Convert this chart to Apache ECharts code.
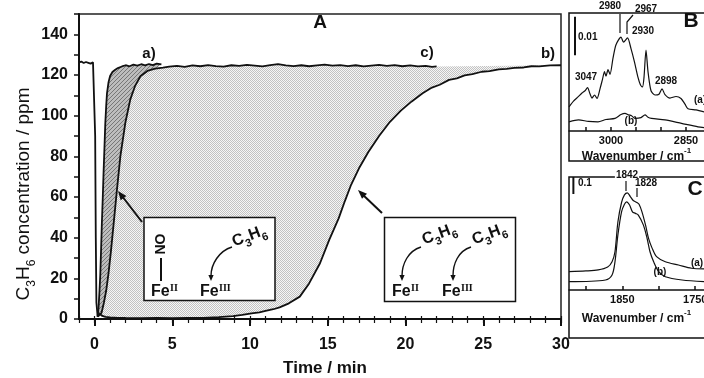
<!DOCTYPE html>
<html>
<head>
<meta charset="utf-8">
<script src="https://cdn.jsdelivr.net/npm/echarts@6/dist/echarts.min.js"></script>
<style>
  html, body { margin: 0; padding: 0; background: #fff; }
  #chart { width: 704px; height: 378px; }
</style>
</head>
<body>
<div id="chart"></div>
<script>
// ---------- Panel A: C3H6 outlet concentration (ppm) vs time (min) ----------
const feedTime = [-1.0, -0.85, -0.7, -0.55, -0.4, -0.25, -0.1, 0.0, 0.04, 0.08, 0.12, 0.2];
const feedConc = [126.2, 126.6, 125.9, 126.4, 126.0, 125.6, 126.3, 125.8, 90, 40, 8, 1.2];

const aTime = [0.2, 0.26, 0.32, 0.37, 0.42, 0.47, 0.53, 0.58, 0.64, 0.69, 0.75, 0.8, 0.9, 1.0, 1.15, 1.33, 1.5, 1.76, 2.0, 2.25, 2.5, 2.75, 3.0, 3.25, 3.5, 3.75, 4.0, 4.3];
const aConc = [1.2, 6, 14, 22, 34, 47, 60, 72, 85, 96, 105, 111, 116.5, 119.5, 121.5, 122.6, 123.4, 124.2, 124.8, 124.3, 125.1, 124.6, 125.3, 124.7, 125.4, 124.9, 125.6, 125.2];

const cTime = [0.2, 0.3, 0.45, 0.6, 0.75, 0.9, 1.05, 1.23, 1.44, 1.66, 1.98, 2.3, 2.6, 2.95, 3.4, 3.9, 4.4, 4.8,
  5.3, 5.8, 6.3, 6.8, 7.3, 7.8, 8.3, 8.8, 9.3, 9.8, 10.3, 10.8, 11.3, 11.8, 12.3, 12.8, 13.3, 13.8, 14.3, 14.8,
  15.3, 15.8, 16.3, 16.8, 17.3, 17.8, 18.3, 18.8, 19.3, 19.8, 20.3, 20.8, 21.3, 21.7, 22.0];
const cConc = [1.2, 1.0, 3, 8, 14, 22.6, 33, 47, 63.5, 80, 96.5, 108, 114.5, 119.4, 122, 123.1, 123.6, 124.1,
  124.5, 124.0, 124.7, 124.3, 124.9, 124.4, 124.1, 124.8, 124.5, 125.0, 124.6, 124.2, 124.9, 125.3, 124.7, 124.4, 124.8, 124.3, 124.7, 125.1,
  124.6, 124.9, 124.4, 124.8, 124.2, 124.6, 125.0, 124.5, 124.9, 124.3, 124.7, 124.2, 124.5, 124.0, 124.2];

const bTime = [0.2, 0.25, 0.32, 0.4, 0.5, 0.7, 1.0, 1.5, 2, 3, 4, 5, 6, 7, 8, 8.9, 9.5, 10.1, 10.6, 11.0, 11.5, 11.9, 12.5, 13.2, 13.8,
  14.5, 15.1, 15.7, 16.1, 16.5, 17.0, 17.6, 18.3, 19.0, 19.7, 20.4, 21.1, 21.7, 22.2, 22.8, 23.3, 23.8, 24.3, 24.9, 25.4, 26.0,
  26.5, 27.0, 27.6, 28.1, 28.6, 29.3, 30.0];
const bConc = [1.2, 1.8, 2.6, 2.2, 1.5, 1.0, 0.8, 0.6, 0.5, 0.4, 0.5, 0.4, 0.5, 0.6, 0.9, 1.4, 2.0, 2.8, 3.3, 4.0, 4.8, 5.7, 7.7, 11, 17.5,
  27.4, 39, 49.5, 58, 66, 74, 82, 90, 97, 102.5, 107, 111, 113.8, 115.2, 117.6, 118.3, 119.8, 120.4, 121.6, 121.9, 122.8,
  123.0, 123.5, 123.7, 124.3, 124.2, 124.7, 124.8];

const timeMajorTicks = [0, 5, 10, 15, 20, 25, 30];
const timeMinorTicks = [-1, 0, 1, 2, 3, 4, 5, 6, 7, 8, 9, 10, 11, 12, 13, 14, 15, 16, 17, 18, 19, 20, 21, 22, 23, 24, 25, 26, 27, 28, 29, 30];

// ---------- Panel B: C-H stretching region ----------
const chWave = [3084, 3075, 3066, 3058, 3052, 3047, 3042, 3038, 3033, 3028, 3022, 3017, 3013, 3010, 3006, 3002, 2996, 2990, 2980, 2975,
  2967, 2960, 2953, 2946, 2941, 2937, 2934, 2930, 2926, 2920, 2912, 2904, 2898, 2892, 2882, 2870, 2860, 2852, 2846, 2830, 2814];
const chAbsA = [0.0063, 0.0078, 0.0089, 0.0099, 0.0105, 0.0113, 0.0097, 0.0086, 0.0094, 0.0085, 0.0110, 0.0135, 0.0155, 0.0143, 0.0160, 0.0148, 0.0190, 0.0225, 0.0245, 0.0232,
  0.0243, 0.0215, 0.0180, 0.0140, 0.0120, 0.0115, 0.0140, 0.0211, 0.0155, 0.0105, 0.0094, 0.0096, 0.0110, 0.0095, 0.0086, 0.0090, 0.0085, 0.0070, 0.0058, 0.0055, 0.0050];
const chWaveB = [3084, 3065, 3045, 3026, 3010, 2992, 2980, 2972, 2965, 2959, 2952, 2940, 2932, 2926, 2919, 2892, 2859, 2826, 2814];
const chAbsB = [0.0024, 0.0029, 0.0025, 0.0024, 0.0030, 0.0033, 0.0043, 0.0046, 0.0042, 0.0040, 0.0033, 0.0035, 0.0042, 0.0036, 0.0033, 0.0029, 0.0020, 0.0011, 0.0009];
const chScaleBar = [[3072, 0.0198], [3072, 0.0298]];
const chPeaks = ['3047', '2980', '2967', '2930', '2898'];
const chTicks = [3050, 3000, 2950, 2900, 2850];
const chTickLabels = [3000, 2850];

// ---------- Panel C: nitrosyl region ----------
const noWaveA = [1923, 1900, 1883, 1870, 1864, 1860, 1856, 1851, 1847, 1843, 1839, 1835, 1830, 1827, 1823, 1818, 1814, 1809, 1803, 1791, 1773, 1755, 1738];
const noAbsA = [0.108, 0.112, 0.118, 0.135, 0.166, 0.225, 0.40, 0.515, 0.56, 0.572, 0.55, 0.527, 0.515, 0.505, 0.46, 0.38, 0.304, 0.245, 0.196, 0.166, 0.147, 0.128, 0.124];
const noWaveB = [1923, 1873, 1864, 1860, 1856, 1851, 1847, 1844, 1840, 1836, 1832, 1828, 1821, 1816, 1812, 1807, 1800, 1791, 1768, 1738];
const noAbsB = [0.049, 0.059, 0.088, 0.166, 0.324, 0.46, 0.505, 0.519, 0.5, 0.46, 0.451, 0.441, 0.382, 0.304, 0.225, 0.166, 0.108, 0.078, 0.059, 0.049];
const noScaleBar = [[1917, 0.565], [1917, 0.665]];
const noPeaks = ['1842', '1828'];
const noTicks = [1900, 1850, 1800, 1750];
const noTickLabels = [1850, 1750];

const FONT = 'Liberation Sans, Arial, sans-serif';
const SERIF = 'Liberation Serif, Times New Roman, serif';
const INK = '#111';

function pairs(xs, ys) { return xs.map((x, i) => [x, ys[i]]); }

function makePattern(size, draw) {
  const cv = document.createElement('canvas');
  cv.width = size; cv.height = size;
  draw(cv.getContext('2d'));
  return { image: cv, repeat: 'repeat' };
}
const dottedFill = makePattern(2, ctx => {
  ctx.fillStyle = '#f6f6f6'; ctx.fillRect(0, 0, 2, 2);
  ctx.fillStyle = '#c2c2c2'; ctx.fillRect(0, 0, 1, 1); ctx.fillRect(1, 1, 1, 1);
});
const hatchedFill = makePattern(4, ctx => {
  ctx.fillStyle = '#bdbdbd'; ctx.fillRect(0, 0, 4, 4);
  ctx.fillStyle = '#777'; for (let i = 0; i < 4; i++) ctx.fillRect(i, 3 - i, 1, 1);
});

// Shaded region bounded by one curve going forward and another coming back
function bandSeries(upT, upV, loT, loV, fill) {
  return {
    type: 'custom', xAxisIndex: 0, yAxisIndex: 0, silent: true, z: 1,
    data: [[upT[0], upV[0]]],
    renderItem: function (params, api) {
      const pts = [];
      for (let i = 0; i < upT.length; i++) pts.push(api.coord([upT[i], upV[i]]));
      for (let i = loT.length - 1; i >= 0; i--) pts.push(api.coord([loT[i], loV[i]]));
      return { type: 'polygon', shape: { points: pts }, style: { fill: fill } };
    }
  };
}

const aEnd = aTime[aTime.length - 1];
const cHeadT = cTime.filter(t => t <= aEnd);
const cHeadV = cConc.slice(0, cHeadT.length);

function lineSeries(data, xi, yi, width, smooth) {
  return {
    type: 'line', xAxisIndex: xi, yAxisIndex: yi, data: data, showSymbol: false, symbol: 'none',
    smooth: smooth || false, silent: true, z: 3,
    lineStyle: { color: INK, width: width }
  };
}

function arrowHead(tx, ty, fx, fy, len, half) {
  const dx = tx - fx, dy = ty - fy, d = Math.hypot(dx, dy), ux = dx / d, uy = dy / d;
  const bx = tx - ux * len, by = ty - uy * len;
  return { type: 'polygon', z: 60, shape: { points: [[tx, ty], [bx - uy * half, by + ux * half], [bx + uy * half, by - ux * half]] }, style: { fill: INK } };
}

function txt(x, y, text, size, extra) {
  return {
    type: 'text', x: x, y: y, z: 60,
    style: Object.assign({ text: text, font: 'bold ' + size + 'px ' + FONT, fill: INK, align: 'center', verticalAlign: 'middle' }, extra || {})
  };
}

// "Fe" with a small roman-numeral oxidation state raised beside it
function feText(x, y, ox) {
  return [
    { type: 'text', x: x, y: y, z: 60, style: { text: 'Fe', font: 'bold 16px ' + FONT, fill: INK, align: 'left', verticalAlign: 'middle' } },
    { type: 'text', x: x + 19, y: y - 4, z: 60, style: { text: ox, font: 'bold 10px ' + SERIF, fill: INK, align: 'left', verticalAlign: 'middle' } }
  ];
}
const propRich = {
  m: { fontSize: 16, fontWeight: 'bold', fontFamily: FONT, verticalAlign: 'top', padding: [0, 0, 4, 0], fill: INK },
  s: { fontSize: 11, fontWeight: 'bold', fontFamily: FONT, verticalAlign: 'bottom', fill: INK }
};
function propText(x, y) {
  return { type: 'text', x: x, y: y, z: 60, rotation: 0.36, style: { text: '{m|C}{s|3}{m|H}{s|6}', rich: propRich, align: 'center', verticalAlign: 'middle' } };
}
function curvedArrow(x1, y1, x2, y2) {
  return [
    { type: 'bezierCurve', z: 60, shape: { x1: x1, y1: y1, cpx1: x1 - 13, cpy1: y1 + 4, cpx2: x2, cpy2: y2 - 16, x2: x2, y2: y2 - 4 }, style: { stroke: INK, lineWidth: 1.4, fill: null } },
    arrowHead(x2, y2 + 1, x2, y2 - 8, 6, 2.6)
  ];
}

const chart = echarts.init(document.getElementById('chart'), null, { renderer: 'canvas' });

const specNameStyle = {
  rich: {
    n: { fontSize: 12, fontWeight: 'bold', fontFamily: FONT, color: INK, verticalAlign: 'bottom', padding: [4, 0, 0, 0] },
    s: { fontSize: 8, fontWeight: 'bold', fontFamily: FONT, color: INK, verticalAlign: 'top' }
  }
};
function specAxis(grid, min, max, ticks, labels, gap) {
  return {
    gridIndex: grid, type: 'value', min: min, max: max, inverse: true, position: 'bottom',
    name: '{n|Wavenumber / cm}{s|-1}', nameLocation: 'middle', nameGap: gap, nameTextStyle: specNameStyle,
    axisLine: { onZero: false, lineStyle: { color: INK, width: 1.5 } },
    axisTick: { customValues: ticks, inside: true, length: 4, lineStyle: { color: INK, width: 1.5 } },
    axisLabel: { customValues: labels, margin: 4, fontSize: 11, fontWeight: 'bold', fontFamily: FONT, color: INK, formatter: v => String(v) },
    splitLine: { show: false }
  };
}

const option = {
  animation: false,
  backgroundColor: '#fff',
  grid: [
    { left: 79, top: 14, width: 482, height: 305, show: true, borderColor: '#222', borderWidth: 1.5, outerBoundsMode: 'none' },
    { left: 569, top: 13, width: 135, height: 118, outerBoundsMode: 'none' },
    { left: 569, top: 177, width: 135, height: 113, outerBoundsMode: 'none' }
  ],
  xAxis: [
    {
      gridIndex: 0, type: 'value', min: -1, max: 30, position: 'bottom',
      name: 'Time / min', nameLocation: 'middle', nameGap: 41,
      nameTextStyle: { fontSize: 17, fontWeight: 'bold', fontFamily: FONT, color: INK, padding: [0, 0, 0, 10] },
      axisLine: { onZero: false, lineStyle: { color: INK, width: 2 } },
      axisTick: { customValues: timeMajorTicks, length: 7, lineStyle: { color: INK, width: 2 } },
      axisLabel: { customValues: timeMajorTicks, margin: 18, fontSize: 16, fontWeight: 'bold', fontFamily: FONT, color: INK },
      splitLine: { show: false }
    },
    {
      gridIndex: 0, type: 'value', min: -1, max: 30, position: 'bottom',
      axisLine: { show: false, onZero: false },
      axisTick: { customValues: timeMinorTicks, inside: true, length: 3, lineStyle: { color: INK, width: 1.2 } },
      axisLabel: { show: false }, splitLine: { show: false }
    },
    {
      gridIndex: 0, type: 'value', min: -1, max: 30, position: 'bottom',
      axisLine: { show: false, onZero: false },
      axisTick: { customValues: timeMinorTicks, inside: false, length: 4, lineStyle: { color: INK, width: 1.2 } },
      axisLabel: { show: false }, splitLine: { show: false }
    },
    specAxis(1, 2814, 3084, chTicks, chTickLabels, 11),
    specAxis(2, 1738, 1923, noTicks, noTickLabels, 19)
  ],
  yAxis: [
    {
      gridIndex: 0, type: 'value', min: 0, max: 150, interval: 10,
      axisLine: { show: true, onZero: false, lineStyle: { color: INK, width: 2 } },
      axisTick: { show: true, length: 5, lineStyle: { color: INK, width: 1.5 } },
      axisLabel: {
        margin: 11, fontSize: 16, fontWeight: 'bold', fontFamily: FONT, color: INK,
        formatter: v => (v % 20 === 0 && v <= 140 ? String(v) : '')
      },
      splitLine: { show: false }
    },
    { gridIndex: 1, type: 'value', min: 0, max: 0.0308, show: false },
    { gridIndex: 2, type: 'value', min: 0, max: 0.665, show: false }
  ],
  series: [
    bandSeries(aTime, aConc, cHeadT, cHeadV, hatchedFill),
    bandSeries(cTime, cConc, bTime, bConc, dottedFill),
    lineSeries(pairs(feedTime, feedConc), 0, 0, 1.8),
    lineSeries(pairs(aTime, aConc), 0, 0, 1.8),
    lineSeries(pairs(cTime, cConc), 0, 0, 1.8),
    lineSeries(pairs(bTime, bConc), 0, 0, 1.8),
    lineSeries(pairs(chWave, chAbsA), 3, 1, 1.2, 0.25),
    lineSeries(pairs(chWaveB, chAbsB), 3, 1, 1.2, 0.25),
    lineSeries(chScaleBar, 3, 1, 2),
    lineSeries(pairs(noWaveA, noAbsA), 4, 2, 1.2, 0.3),
    lineSeries(pairs(noWaveB, noAbsB), 4, 2, 1.2, 0.3),
    lineSeries(noScaleBar, 4, 2, 2)
  ],
  graphic: [
    // Y axis title with subscripts
    {
      type: 'text', x: 26, y: 194, rotation: Math.PI / 2, z: 60,
      style: {
        text: '{n|C}{s|3}{n|H}{s|6}{n| concentration / ppm}', align: 'center', verticalAlign: 'middle',
        rich: {
          n: { fontSize: 19, fontFamily: FONT, fill: INK, verticalAlign: 'top', padding: [0, 0, 4, 0] },
          s: { fontSize: 12, fontFamily: FONT, fill: INK, verticalAlign: 'bottom' }
        }
      }
    },
    txt(320, 23, 'A', 19),
    txt(149, 54, 'a)', 15),
    txt(427, 53, 'c)', 15),
    txt(548, 54, 'b)', 15),

    // Scheme boxes
    { type: 'rect', z: 55, shape: { x: 144, y: 217.5, width: 131, height: 83 }, style: { fill: '#fff', stroke: INK, lineWidth: 1.5 } },
    { type: 'rect', z: 55, shape: { x: 384.5, y: 217.5, width: 131, height: 84 }, style: { fill: '#fff', stroke: INK, lineWidth: 1.5 } },
    { type: 'text', x: 161, y: 244, rotation: Math.PI / 2, z: 60, style: { text: 'NO', font: 'bold 14px ' + FONT, fill: INK, align: 'center', verticalAlign: 'middle' } },
    { type: 'line', z: 60, shape: { x1: 161, y1: 258, x2: 161, y2: 281 }, style: { stroke: INK, lineWidth: 2 } },
    ...feText(151, 292, 'II'),
    ...feText(200, 292, 'III'),
    propText(250, 238),
    ...curvedArrow(232, 247, 211, 280),
    ...feText(392, 292, 'II'),
    ...feText(442, 292, 'III'),
    propText(440, 236),
    propText(490, 236),
    ...curvedArrow(421, 247, 402, 280),
    ...curvedArrow(471, 247, 453, 280),

    // Pointers from the boxes to the curves
    { type: 'line', z: 60, shape: { x1: 142, y1: 222, x2: 122, y2: 196 }, style: { stroke: INK, lineWidth: 2 } },
    arrowHead(118, 191, 142, 222, 9, 3.6),
    { type: 'line', z: 60, shape: { x1: 382, y1: 213, x2: 362, y2: 194 }, style: { stroke: INK, lineWidth: 2 } },
    arrowHead(358, 190, 382, 213, 9, 3.6),

    // Panel B frame and labels
    { type: 'rect', z: 55, shape: { x: 569, y: 13, width: 145, height: 148 }, style: { fill: null, stroke: INK, lineWidth: 1.5 } },
    txt(691, 21, 'B', 21),
    txt(578, 37, '0.01', 10, { align: 'left' }),
    txt(586, 77, chPeaks[0], 10),
    txt(610, 6, chPeaks[1], 10),
    txt(646, 9, chPeaks[2], 10),
    txt(643, 31, chPeaks[3], 10),
    txt(666, 81, chPeaks[4], 10),
    { type: 'line', z: 60, shape: { x1: 620, y1: 14, x2: 620, y2: 33 }, style: { stroke: INK, lineWidth: 1.2 } },
    { type: 'polyline', z: 60, shape: { points: [[627, 34], [627, 22], [633, 15]] }, style: { stroke: INK, lineWidth: 1.2, fill: null } },
    txt(694, 100, '(a)', 10, { align: 'left' }),
    txt(631, 121, '(b)', 10),

    // Panel C frame and labels
    { type: 'rect', z: 55, shape: { x: 569, y: 177, width: 145, height: 161 }, style: { fill: null, stroke: INK, lineWidth: 1.5 } },
    txt(695, 189, 'C', 21),
    txt(578, 183, '0.1', 10, { align: 'left' }),
    txt(627, 175, noPeaks[0], 10, { backgroundColor: '#fff', padding: [0, 1] }),
    txt(646, 183, noPeaks[1], 10),
    { type: 'line', z: 60, shape: { x1: 626, y1: 181, x2: 626, y2: 191 }, style: { stroke: INK, lineWidth: 1.2 } },
    { type: 'line', z: 60, shape: { x1: 637, y1: 188, x2: 637, y2: 197 }, style: { stroke: INK, lineWidth: 1.2 } },
    txt(697, 263, '(a)', 10),
    txt(660, 272, '(b)', 10)
  ]
};

chart.setOption(option);
</script>
</body>
</html>
